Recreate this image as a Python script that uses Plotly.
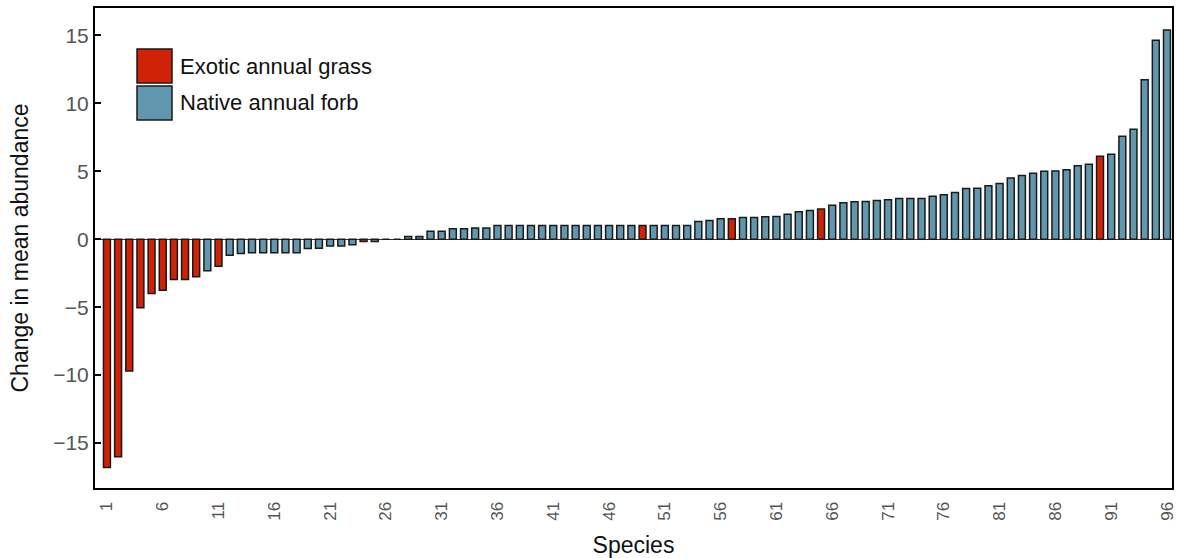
import plotly.graph_objects as go

species = list(range(1, 97))
change = [
    -16.8, -16.0, -9.7, -5.05, -4.0, -3.75, -2.97, -2.97, -2.77, -2.33,
    -2.0, -1.18, -1.05, -1.0, -1.0, -1.0, -1.0, -1.0, -0.69, -0.66,
    -0.5, -0.5, -0.42, -0.17, -0.17, 0.0, 0.0, 0.2, 0.2, 0.59,
    0.59, 0.76, 0.76, 0.83, 0.83, 1.0, 1.0, 1.0, 1.0, 1.0,
    1.0, 1.0, 1.0, 1.0, 1.0, 1.0, 1.0, 1.0, 1.0, 1.0,
    1.0, 1.0, 1.0, 1.3, 1.37, 1.5, 1.5, 1.59, 1.59, 1.64,
    1.67, 1.84, 2.01, 2.11, 2.21, 2.5, 2.67, 2.75, 2.77, 2.84,
    2.89, 2.99, 2.99, 2.99, 3.16, 3.26, 3.43, 3.72, 3.75, 3.92,
    4.09, 4.49, 4.68, 4.85, 5.0, 5.02, 5.1, 5.39, 5.51, 6.1,
    6.25, 7.57, 8.09, 11.72, 14.63, 15.39,
]
exotic_species = [1, 2, 3, 4, 5, 6, 7, 8, 9, 11, 24, 49, 57, 65, 90]
group_names = ["Exotic annual grass", "Native annual forb"]
group_colors = ["#CF2207", "#6097AE"]
x_tick_vals = list(range(1, 97, 5))
y_tick_vals = [-15, -10, -5, 0, 5, 10, 15]

fig = go.Figure()
for gi, gname in enumerate(group_names):
    if gi == 0:
        sel = [i for i, s in enumerate(species) if s in exotic_species]
    else:
        sel = [i for i, s in enumerate(species) if s not in exotic_species]
    fig.add_trace(go.Bar(
        x=[species[i] for i in sel],
        y=[change[i] for i in sel],
        name=gname,
        width=0.62,
        marker=dict(color=group_colors[gi], line=dict(color="#1a1a1a", width=1.5)),
        showlegend=False,
    ))

# manual legend (large boxes like the original)
box_x0, box_x1 = 0.039, 0.0715
box_rows = [(0.9146, 0.8437), (0.8375, 0.7667)]
for gi, gname in enumerate(group_names):
    y1, y0 = box_rows[gi]
    fig.add_shape(type="rect", xref="paper", yref="paper",
                  x0=box_x0, x1=box_x1, y0=y0, y1=y1,
                  fillcolor=group_colors[gi], line=dict(color="#1a1a1a", width=1.5))
    fig.add_annotation(xref="paper", yref="paper", x=0.0775, y=(y0 + y1) / 2,
                       text=gname, showarrow=False, xanchor="left", yanchor="middle",
                       font=dict(size=22, color="#111111"))

fig.update_layout(
    width=1177, height=558,
    margin=dict(l=95, r=5, t=8, b=70),
    plot_bgcolor="white", paper_bgcolor="white",
    barmode="overlay",
    font=dict(family="Liberation Sans, Arial, sans-serif", color="#111111"),
    xaxis=dict(
        range=[-0.07, 96.45],
        tickvals=x_tick_vals,
        ticktext=[str(v) for v in x_tick_vals],
        tickangle=-90,
        ticks="outside", ticklen=5, tickcolor="rgba(0,0,0,0)",
        ticklabeloverflow="allow",
        automargin=False,
        showgrid=False, zeroline=False,
        showline=True, linecolor="black", linewidth=2, mirror=True,
        tickfont=dict(size=17, color="#555555"),
        title=dict(text="Species", font=dict(size=23, color="#111111"), standoff=18),
    ),
    yaxis=dict(
        range=[-18.3, 17.0],
        tickvals=y_tick_vals,
        ticks="inside", ticklen=6, tickcolor="black", tickwidth=1.5,
        automargin=False,
        showgrid=False,
        zeroline=True, zerolinecolor="#333333", zerolinewidth=1,
        showline=True, linecolor="black", linewidth=2, mirror=True,
        tickfont=dict(size=21, color="#555555"),
        title=dict(text="Change in mean abundance", font=dict(size=23, color="#111111"), standoff=18),
    ),
)

fig.write_html("out.html")
